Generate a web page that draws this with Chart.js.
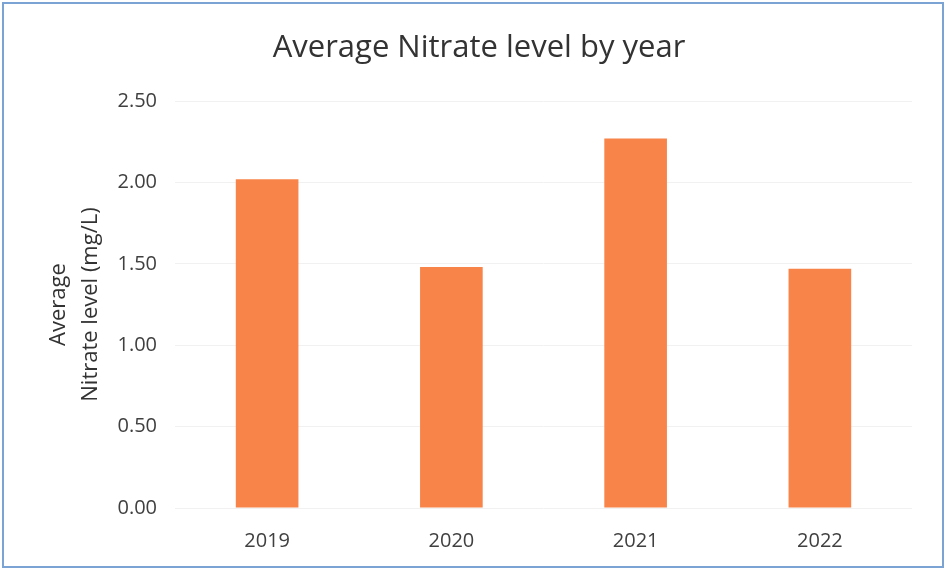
<!DOCTYPE html>
<html>
<head>
<meta charset="utf-8">
<title>Average Nitrate level by year</title>
<script src="https://cdn.jsdelivr.net/npm/chart.js@4.4.1/dist/chart.umd.min.js"></script>
<style>
  html, body { margin: 0; padding: 0; background: #fff; }
  #wrap { position: relative; width: 948px; height: 576px; }
  #frame {
    position: absolute; left: 2px; top: 2px; width: 938px; height: 562px;
    border: 2px solid #7ba3d4; pointer-events: none;
  }
</style>
</head>
<body>
<div id="wrap">
  <canvas id="myChart" width="948" height="576"></canvas>
  <div id="frame"></div>
</div>
<script>
// chart data
const years = ["2019", "2020", "2021", "2022"];
const nitrateLevels = [2.02, 1.48, 2.27, 1.47];
const yTickValues = [0, 0.5, 1, 1.5, 2, 2.5];

const textColor = "#404040";

var ctx = document.getElementById("myChart").getContext("2d");
var myChart = new Chart(ctx, {
  type: "bar",
  data: {
    labels: years,
    datasets: [
      {
        data: nitrateLevels,
        label: "Average Nitrate level",
        backgroundColor: "#f8844a",
        borderWidth: 0,
        barPercentage: 0.34,
        categoryPercentage: 1,
      },
    ],
  },
  options: {
    responsive: false,
    animation: false,
    layout: { padding: { left: 46, right: 36, top: 0, bottom: 0 } },
    plugins: {
      legend: { display: false },
      tooltip: { enabled: false },
      title: {
        display: true,
        text: "Average Nitrate level by year",
        color: "#333",
        font: { family: "'Open Sans'", size: 31, weight: "normal", lineHeight: 1.2 },
        padding: { top: 30, bottom: 33.8 },
      },
    },
    scales: {
      x: {
        afterFit: (scale) => { scale.height = 68; },
        grid: { display: false, drawTicks: false },
        border: { display: false },
        ticks: {
          color: textColor,
          padding: 21,
          font: { family: "'Open Sans'", size: 20, lineHeight: 1.2 },
        },
      },
      y: {
        min: 0,
        max: 2.5,
        afterFit: (scale) => { scale.width = 129; },
        afterBuildTicks: (scale) => {
          scale.ticks = yTickValues.map((v) => ({ value: v }));
        },
        grid: { color: "#f1f1f1", drawTicks: false },
        border: { display: false },
        ticks: {
          color: textColor,
          padding: 18,
          font: { family: "'Open Sans'", size: 20 },
          callback: (v) => Number(v).toFixed(2),
        },
        title: {
          display: true,
          text: ["Average", "Nitrate level (mg/L)"],
          color: "#333",
          font: { family: "'Open Sans'", size: 22, lineHeight: 1.45 },
          padding: { top: -3, bottom: 0 },
        },
      },
    },
  },
});
</script>
</body>
</html>
